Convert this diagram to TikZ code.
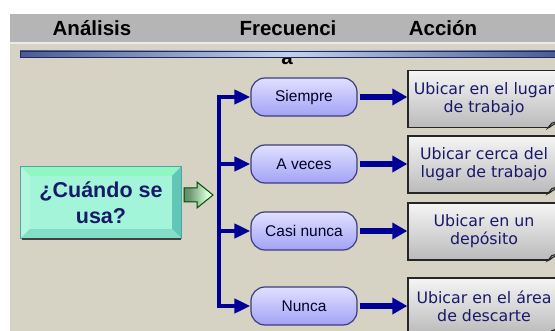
\documentclass[tikz,border=0pt]{standalone}
\usepackage{fontspec}
\setmainfont{Liberation Sans}
\newfontfamily\verdana{DejaVu Sans}
\usetikzlibrary{arrows.meta,positioning,calc}
\definecolor{bgbeige}{RGB}{214,211,196}
\definecolor{hdgray}{RGB}{181,181,181}
\definecolor{linkblue}{RGB}{0,0,150}
\definecolor{inknavy}{RGB}{25,25,105}
\definecolor{barnavy}{RGB}{28,42,110}
\definecolor{barlight}{RGB}{196,210,232}
\definecolor{aquaface}{RGB}{162,245,216}
\definecolor{pilltop}{RGB}{224,224,255}
\definecolor{pillbot}{RGB}{162,162,246}
\definecolor{ptrgreen}{RGB}{50,110,60}
\pgfdeclarehorizontalshading{barshade}{100bp}{color(0bp)=(barnavy); color(22bp)=(barnavy!80!barlight);
  color(50bp)=(barlight); color(78bp)=(barnavy!80!barlight); color(100bp)=(barnavy)}
\pgfdeclarehorizontalshading{ptrshade}{100bp}{color(0bp)=(ptrgreen); color(35bp)=(ptrgreen!70!white);
  color(65bp)=(white!85!green); color(100bp)=(white)}

\begin{document}
\begin{tikzpicture}[x=1pt,y=-1pt,
  head/.style={font=\bfseries\fontsize{20.5}{24}\selectfont, anchor=base},
  freq/.style={draw=inknavy!85, line width=1.2pt, rounded corners=14pt, top color=pilltop, bottom color=pillbot,
    minimum width=106pt, minimum height=38pt, font=\fontsize{15.5}{18}\selectfont, text=black!85!blue},
  act/.style={draw=black!85, line width=1.4pt, top color=black!4, bottom color=black!27, minimum width=152pt,
    minimum height=57pt, align=center, font=\verdana\fontsize{15.8}{18}\selectfont, text=inknavy},
  link/.style={draw=linkblue, line width=4pt},
  tip/.style={-{Triangle[length=16pt,width=14pt]}}]
\useasboundingbox (0,0) rectangle (555,331);
% backdrop
\fill[hdgray] (10,14) rectangle (555,42);
\fill[black!8] (10,42) rectangle (555,44);
\fill[bgbeige] (10,44) rectangle (555,331);
\node[head] (hana) at (92,36) {Análisis};
\node[head] (hfre) at (288,36) {Frecuenci};
\node[head] (hacc) at (443,36) {Acción};
\node[head] (hfra) at (287,65) {a};
\shade[shading=barshade] (20,51) rectangle (557,57);
\draw[barnavy, line width=0.6pt] (20,51) rectangle (557,57);

% question box
\node[fill=aquaface, draw=teal!70, minimum width=160pt, minimum height=71pt, align=center,
  font=\bfseries\fontsize{21.5}{26}\selectfont, text=inknavy] (uso) at (101,202.5) {¿Cuándo se\\usa?};
\fill[green!10!aquaface] (uso.north west) -- (uso.north east) -- ($(uso.north east)+(-9,9)$) -- ($(uso.north west)+(9,9)$) -- cycle;
\fill[aquaface!85!white] (uso.north west) -- (uso.south west) -- ($(uso.south west)+(9,-9)$) -- ($(uso.north west)+(9,9)$) -- cycle;
\fill[aquaface!60!teal] (uso.north east) -- (uso.south east) -- ($(uso.south east)+(-9,-9)$) -- ($(uso.north east)+(-9,9)$) -- cycle;
\fill[aquaface!80!teal] (uso.south west) -- (uso.south east) -- ($(uso.south east)+(-9,-9)$) -- ($(uso.south west)+(9,-9)$) -- cycle;
\draw[teal!70, line width=0.8pt] (uso.north west) rectangle (uso.south east);
\draw[black!75, line width=1.6pt] ($(uso.south west)+(1,1)$) -- ($(uso.south east)+(0,1)$);
% pointer arrow
\shade[shading=ptrshade, draw=green!30!black, line width=1pt, line join=miter]
  (184,188) -- (197,188) -- (197,182) -- (213,195) -- (197,208) -- (197,202) -- (184,202) -- cycle;

% frequencies
\node[freq] (sie) at (304,97) {Siempre};
\node[freq] (ave) at (304,164) {A veces};
\node[freq] (cas) at (304,231) {Casi nunca};
\node[freq] (nun) at (304,306) {Nunca};

% actions
\node[act] (lug) at (484,99) {Ubicar en el lugar\\de trabajo};
\node[act] (cer) at (484,164.5) {Ubicar cerca del\\lugar de trabajo};
\node[act] (dep) at (484,231.5) {Ubicar en un\\depósito};
\node[act] (des) at (484,306.5) {Ubicar en el área\\de descarte};
\foreach \b in {lug,cer,dep,des} {
  \fill[bgbeige] ($(\b.south east)+(-13,1)$) -- ($(\b.south east)+(1,1)$) -- ($(\b.south east)+(1,-8)$) -- cycle;
  \filldraw[fill=black!35, draw=black!85, line width=1pt] ($(\b.south east)+(-13,0)$) -- ($(\b.south east)+(0,-8)$)
    -- ($(\b.south east)+(-9,-5)$) -- cycle;
}

% connectors
\coordinate (tk) at (219,0);
\draw[link, line cap=rect] (tk |- sie) -- (tk |- nun);
\foreach \f/\a in {sie/lug,ave/cer,cas/dep,nun/des} {
  \draw[link, tip] (tk |- \f) -- (\f.west);
  \draw[link, line width=5.5pt, -{Triangle[length=15pt,width=16pt]}, shorten <=2pt] (\f.east) -- (\f.east -| \a.west);
}
\end{tikzpicture}
\end{document}
